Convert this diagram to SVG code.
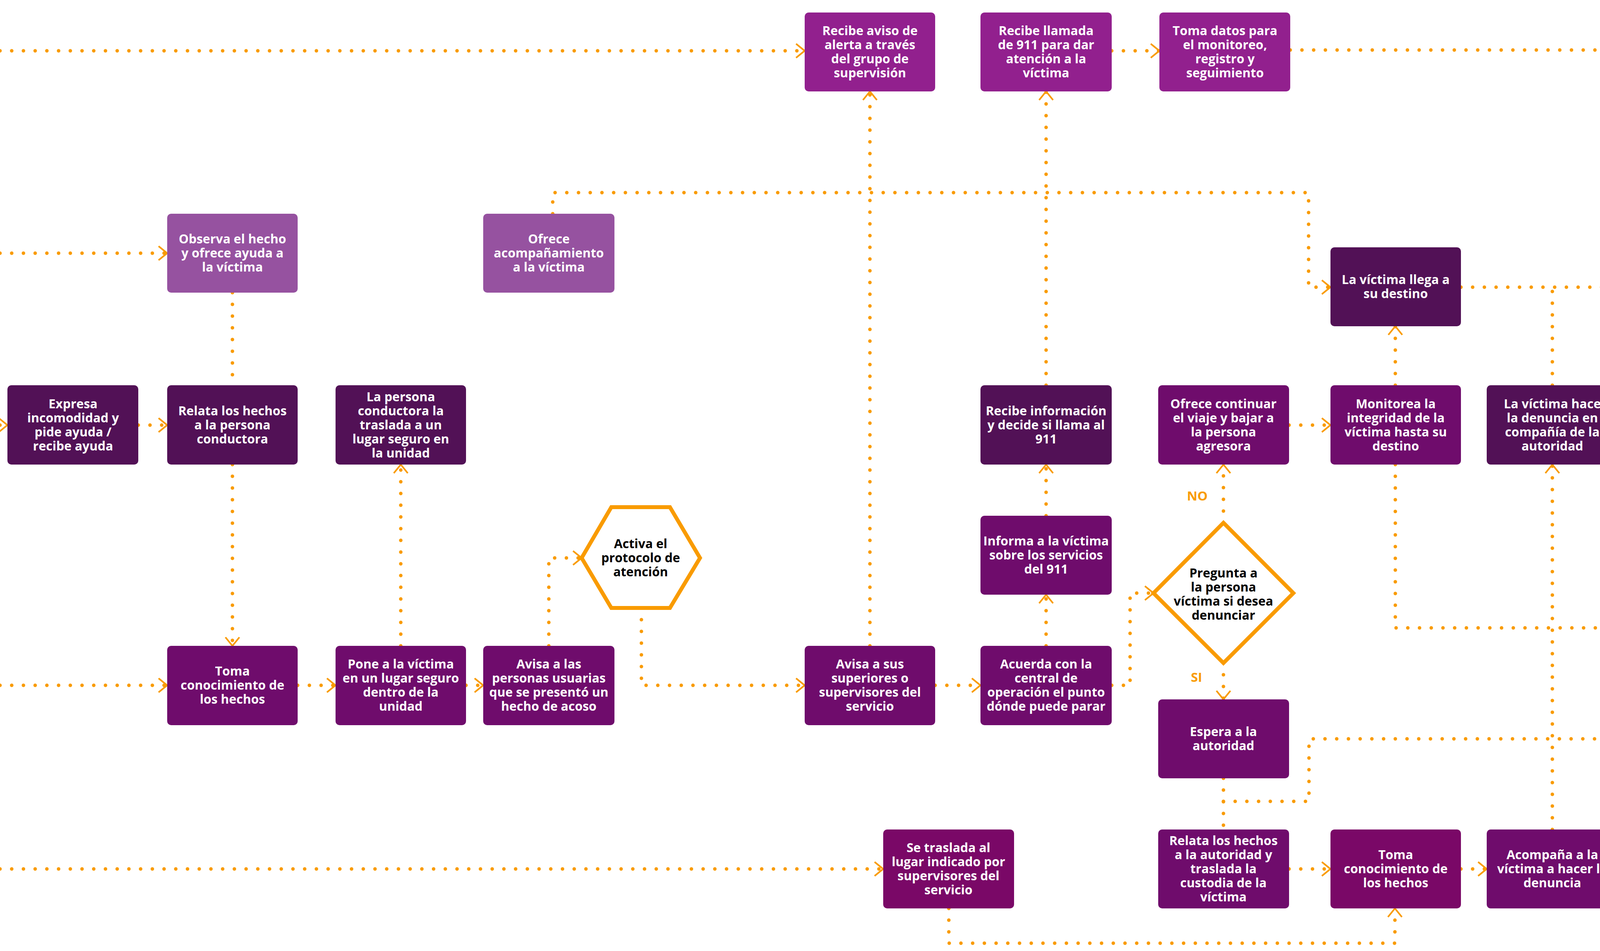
<svg xmlns="http://www.w3.org/2000/svg" width="4557" height="2434" viewBox="0 0 4557 2434">
<style>
.lp{fill:#9652a0}.bp{fill:#92208e}.dp{fill:#521156}.mp{fill:#6f0c6c}.rp{fill:#7a0867}
.t{font-family:"Open Sans","Noto Sans",sans-serif;font-weight:700;font-size:32px;fill:#fff;text-anchor:middle}
.k{fill:#000}
.lab{font-family:"Open Sans","Noto Sans",sans-serif;font-weight:700;font-size:33px;fill:#f99b00;text-anchor:middle}
.c{fill:none;stroke:#f99b00;stroke-width:9;stroke-linecap:round;stroke-dasharray:0 30}
.sh{fill:#fff;stroke:#f99b00;stroke-width:10;stroke-linejoin:miter}
</style>
<defs>
<marker id="ar" markerUnits="userSpaceOnUse" markerWidth="30" markerHeight="42" viewBox="-3 -3 27 40" refX="21" refY="17" orient="auto">
<path d="M0,0 L21,17 L0,34" fill="none" stroke="#f99b00" stroke-width="4" stroke-dasharray="none"/>
</marker>
</defs>
<rect width="4557" height="2434" fill="#fff"/>
<g id="connectors">
<path class="c" d="M0,130 H2060" marker-end="url(#ar)"/>
<path class="c" d="M0,648 H428" marker-end="url(#ar)"/>
<path class="c" d="M0,1088 H19" marker-end="url(#ar)"/>
<path class="c" d="M354,1088 H428" marker-end="url(#ar)"/>
<path class="c" d="M595,749 V986"/>
<path class="c" d="M595,1189 V1653" marker-end="url(#ar)"/>
<path class="c" d="M0,1754 H428" marker-end="url(#ar)"/>
<path class="c" d="M762,1754 H859" marker-end="url(#ar)"/>
<path class="c" d="M1026,1653 V1189" marker-end="url(#ar)"/>
<path class="c" d="M1193,1754 H1237" marker-end="url(#ar)"/>
<path class="c" d="M1405,1653 V1428 H1489" marker-end="url(#ar)"/>
<path class="c" d="M1642,1556 V1754 H2060" marker-end="url(#ar)"/>
<path class="c" d="M2227,1653 V234" marker-end="url(#ar)"/>
<path class="c" d="M1415,547 V493 H3350 V735 H3406" marker-end="url(#ar)"/>
<path class="c" d="M2394,1754 H2510" marker-end="url(#ar)"/>
<path class="c" d="M2678,1653 V1522" marker-end="url(#ar)"/>
<path class="c" d="M2678,1320 V1189" marker-end="url(#ar)"/>
<path class="c" d="M2678,986 V234" marker-end="url(#ar)"/>
<path class="c" d="M2846,130 H2968" marker-end="url(#ar)"/>
<path class="c" d="M3303,128 H4373 V1202" marker-end="url(#ar)"/>
<path class="c" d="M2846,1754 H2893 V1518 H2953" marker-end="url(#ar)"/>
<path class="c" d="M3132,1338 V1189" marker-end="url(#ar)"/>
<path class="c" d="M3132,1697 V1790" marker-end="url(#ar)"/>
<path class="c" d="M3300,1088 H3406" marker-end="url(#ar)"/>
<path class="c" d="M3572,986 V835" marker-end="url(#ar)"/>
<path class="c" d="M3740,735 H4373"/>
<path class="c" d="M3974,986 V735"/>
<path class="c" d="M3572,1189 V1607 H4373"/>
<path class="c" d="M4373,1790 V1437" marker-end="url(#ar)"/>
<path class="c" d="M4373,2123 V1992"/>
<path class="c" d="M3132,1992 V2123"/>
<path class="c" d="M3132,2051 H3351 V1891 H4206" marker-end="url(#ar)"/>
<path class="c" d="M3300,2224 H3406" marker-end="url(#ar)"/>
<path class="c" d="M3740,2224 H3806" marker-end="url(#ar)"/>
<path class="c" d="M4141,2224 H4206" marker-end="url(#ar)"/>
<path class="c" d="M3974,2123 V1189" marker-end="url(#ar)"/>
<path class="c" d="M0,2224 H2261" marker-end="url(#ar)"/>
<path class="c" d="M2429,2325 V2414 H3571 V2325" marker-end="url(#ar)"/>
<text class="lab" x="3065" y="1281">NO</text>
<text class="lab" x="3063" y="1745">SI</text>
</g>
<g id="n_observa"><rect class="lp" x="428" y="547" width="334" height="202" rx="10"/><text class="t"><tspan x="595" y="623">Observa el hecho</tspan><tspan x="595" y="659">y ofrece ayuda a</tspan><tspan x="595" y="695">la víctima</tspan></text></g>
<g id="n_ofrece_acomp"><rect class="lp" x="1237" y="547" width="336" height="202" rx="10"/><text class="t"><tspan x="1405" y="623">Ofrece</tspan><tspan x="1405" y="659">acompañamiento</tspan><tspan x="1405" y="695">a la víctima</tspan></text></g>
<g id="n_recibe_aviso"><rect class="bp" x="2060" y="32" width="334" height="202" rx="10"/><text class="t"><tspan x="2227" y="90">Recibe aviso de</tspan><tspan x="2227" y="126">alerta a través</tspan><tspan x="2227" y="162">del grupo de</tspan><tspan x="2227" y="198">supervisión</tspan></text></g>
<g id="n_recibe_llamada"><rect class="bp" x="2510" y="32" width="336" height="202" rx="10"/><text class="t"><tspan x="2678" y="90">Recibe llamada</tspan><tspan x="2678" y="126">de 911 para dar</tspan><tspan x="2678" y="162">atención a la</tspan><tspan x="2678" y="198">víctima</tspan></text></g>
<g id="n_toma_datos"><rect class="bp" x="2968" y="32" width="335" height="202" rx="10"/><text class="t"><tspan x="3136" y="90">Toma datos para</tspan><tspan x="3136" y="126">el monitoreo,</tspan><tspan x="3136" y="162">registro y</tspan><tspan x="3136" y="198">seguimiento</tspan></text></g>
<g id="n_llega"><rect class="dp" x="3406" y="633" width="334" height="202" rx="10"/><text class="t"><tspan x="3573" y="727">La víctima llega a</tspan><tspan x="3573" y="763">su destino</tspan></text></g>
<g id="n_expresa"><rect class="dp" x="19" y="986" width="335" height="203" rx="10"/><text class="t"><tspan x="187" y="1045">Expresa</tspan><tspan x="187" y="1081">incomodidad y</tspan><tspan x="187" y="1117">pide ayuda /</tspan><tspan x="187" y="1153">recibe ayuda</tspan></text></g>
<g id="n_relata"><rect class="dp" x="428" y="986" width="334" height="203" rx="10"/><text class="t"><tspan x="595" y="1063">Relata los hechos</tspan><tspan x="595" y="1099">a la persona</tspan><tspan x="595" y="1135">conductora</tspan></text></g>
<g id="n_conductora"><rect class="dp" x="859" y="986" width="334" height="203" rx="10"/><text class="t"><tspan x="1026" y="1027">La persona</tspan><tspan x="1026" y="1063">conductora la</tspan><tspan x="1026" y="1099">traslada a un</tspan><tspan x="1026" y="1135">lugar seguro en</tspan><tspan x="1026" y="1171">la unidad</tspan></text></g>
<g id="n_recibe_info"><rect class="dp" x="2510" y="986" width="336" height="203" rx="10"/><text class="t"><tspan x="2678" y="1063">Recibe información</tspan><tspan x="2678" y="1099">y decide si llama al</tspan><tspan x="2678" y="1135">911</tspan></text></g>
<g id="n_ofrece_cont"><rect class="mp" x="2965" y="986" width="335" height="203" rx="10"/><text class="t"><tspan x="3132" y="1045">Ofrece continuar</tspan><tspan x="3132" y="1081">el viaje y bajar a</tspan><tspan x="3132" y="1117">la persona</tspan><tspan x="3132" y="1153">agresora</tspan></text></g>
<g id="n_monitorea"><rect class="mp" x="3406" y="986" width="334" height="203" rx="10"/><text class="t"><tspan x="3573" y="1045">Monitorea la</tspan><tspan x="3573" y="1081">integridad de la</tspan><tspan x="3573" y="1117">víctima hasta su</tspan><tspan x="3573" y="1153">destino</tspan></text></g>
<g id="n_hace_denuncia"><rect class="dp" x="3806" y="986" width="335" height="203" rx="10"/><text class="t"><tspan x="3974" y="1045">La víctima hace</tspan><tspan x="3974" y="1081">la denuncia en</tspan><tspan x="3974" y="1117">compañía de la</tspan><tspan x="3974" y="1153">autoridad</tspan></text></g>
<g id="n_fin"><circle cx="4374" cy="1320" r="119" fill="#f99b00"/><text class="t" x="4374" y="1342" style="font-size:60px">FIN</text></g>
<g id="n_protocolo"><polygon class="sh" points="1565,1298 1715,1298 1792,1428 1715,1556 1565,1556 1489,1428"/><text class="t k"><tspan x="1640" y="1403">Activa el</tspan><tspan x="1640" y="1439">protocolo de</tspan><tspan x="1640" y="1475">atención</tspan></text></g>
<g id="n_informa"><rect class="mp" x="2510" y="1320" width="336" height="202" rx="10"/><text class="t"><tspan x="2678" y="1396">Informa a la víctima</tspan><tspan x="2678" y="1432">sobre los servicios</tspan><tspan x="2678" y="1468">del 911</tspan></text></g>
<g id="n_pregunta"><polygon class="sh" points="3132,1338 3311,1518 3132,1697 2953,1518"/><text class="t k"><tspan x="3132" y="1478">Pregunta a</tspan><tspan x="3132" y="1514">la persona</tspan><tspan x="3132" y="1550">víctima si desea</tspan><tspan x="3132" y="1586">denunciar</tspan></text></g>
<g id="n_toma1"><rect class="mp" x="428" y="1653" width="334" height="203" rx="10"/><text class="t"><tspan x="595" y="1729">Toma</tspan><tspan x="595" y="1765">conocimiento de</tspan><tspan x="595" y="1801">los hechos</tspan></text></g>
<g id="n_pone"><rect class="mp" x="859" y="1653" width="334" height="203" rx="10"/><text class="t"><tspan x="1026" y="1711">Pone a la víctima</tspan><tspan x="1026" y="1747">en un lugar seguro</tspan><tspan x="1026" y="1783">dentro de la</tspan><tspan x="1026" y="1819">unidad</tspan></text></g>
<g id="n_avisa_personas"><rect class="mp" x="1237" y="1653" width="336" height="203" rx="10"/><text class="t"><tspan x="1405" y="1711">Avisa a las</tspan><tspan x="1405" y="1747">personas usuarias</tspan><tspan x="1405" y="1783">que se presentó un</tspan><tspan x="1405" y="1819">hecho de acoso</tspan></text></g>
<g id="n_avisa_sup"><rect class="mp" x="2060" y="1653" width="334" height="203" rx="10"/><text class="t"><tspan x="2227" y="1711">Avisa a sus</tspan><tspan x="2227" y="1747">superiores o</tspan><tspan x="2227" y="1783">supervisores del</tspan><tspan x="2227" y="1819">servicio</tspan></text></g>
<g id="n_acuerda"><rect class="mp" x="2510" y="1653" width="336" height="203" rx="10"/><text class="t"><tspan x="2678" y="1711">Acuerda con la</tspan><tspan x="2678" y="1747">central de</tspan><tspan x="2678" y="1783">operación el punto</tspan><tspan x="2678" y="1819">dónde puede parar</tspan></text></g>
<g id="n_espera"><rect class="mp" x="2965" y="1790" width="335" height="202" rx="10"/><text class="t"><tspan x="3132" y="1884">Espera a la</tspan><tspan x="3132" y="1920">autoridad</tspan></text></g>
<g id="n_hace1"><rect class="mp" x="4206" y="1790" width="335" height="202" rx="10"/><text class="t"><tspan x="4373" y="1884">Hace el reporte en</tspan><tspan x="4373" y="1920">su bitácora</tspan></text></g>
<g id="n_se_traslada"><rect class="rp" x="2261" y="2123" width="335" height="202" rx="10"/><text class="t"><tspan x="2428" y="2181">Se traslada al</tspan><tspan x="2428" y="2217">lugar indicado por</tspan><tspan x="2428" y="2253">supervisores del</tspan><tspan x="2428" y="2289">servicio</tspan></text></g>
<g id="n_relata_aut"><rect class="mp" x="2965" y="2123" width="335" height="202" rx="10"/><text class="t"><tspan x="3132" y="2163">Relata los hechos</tspan><tspan x="3132" y="2199">a la autoridad y</tspan><tspan x="3132" y="2235">traslada la</tspan><tspan x="3132" y="2271">custodia de la</tspan><tspan x="3132" y="2307">víctima</tspan></text></g>
<g id="n_toma2"><rect class="rp" x="3406" y="2123" width="334" height="202" rx="10"/><text class="t"><tspan x="3573" y="2199">Toma</tspan><tspan x="3573" y="2235">conocimiento de</tspan><tspan x="3573" y="2271">los hechos</tspan></text></g>
<g id="n_acompana"><rect class="mp" x="3806" y="2123" width="335" height="202" rx="10"/><text class="t"><tspan x="3974" y="2199">Acompaña a la</tspan><tspan x="3974" y="2235">víctima a hacer la</tspan><tspan x="3974" y="2271">denuncia</tspan></text></g>
<g id="n_hace2"><rect class="mp" x="4206" y="2123" width="335" height="202" rx="10"/><text class="t"><tspan x="4373" y="2217">Hace el reporte en</tspan><tspan x="4373" y="2253">su bitácora</tspan></text></g>
</svg>
